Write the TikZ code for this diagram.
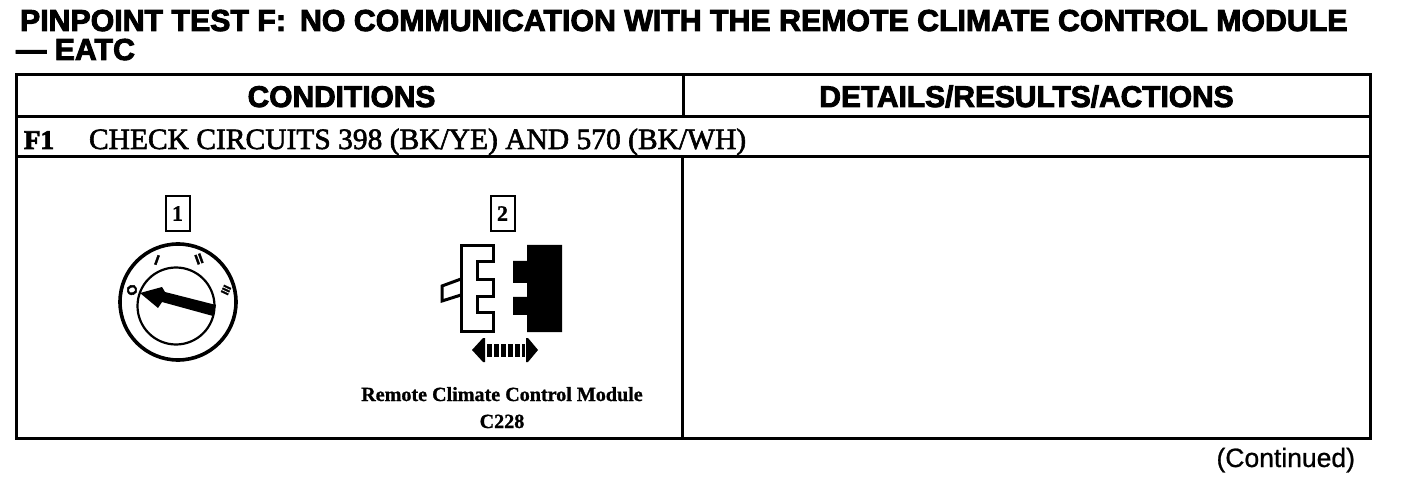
\documentclass[tikz,border=0pt]{standalone}
\usepackage{fontspec}
\setmainfont{Liberation Serif}
\setsansfont{Liberation Sans}
\newfontfamily\heavysans[FakeBold=3]{Liberation Sans Bold}
\newfontfamily\heavyserif[FakeBold=2]{Liberation Serif}
\newfontfamily\heavyserifb[FakeBold=3]{Liberation Serif Bold}
\newfontfamily\medsans[FakeBold=0.8]{Liberation Sans}
\newfontfamily\capserif[FakeBold=1]{Liberation Serif Bold}
\tikzset{
  rule/.style={line width=3pt,line cap=rect},
  txt/.style={inner sep=0pt,outer sep=0pt,text=black},
  titletxt/.style={txt,anchor=base west,font=\heavysans\fontsize{30.3}{32}\selectfont},
  headtxt/.style={txt,anchor=base,font=\heavysans\fontsize{29.9}{32}\selectfont},
  rowtxt/.style={txt,anchor=base west,font=\heavyserif\fontsize{29.5}{32}\selectfont},
  captxt/.style={txt,anchor=base,font=\capserif\fontsize{20.1}{22}\selectfont},
  callout/.style={draw,line width=2pt,minimum width=24pt,minimum height=35pt,inner sep=0pt,font=\capserif\fontsize{22}{24}\selectfont},
  keymark/.style={txt,font=\heavysans\fontsize{14}{14}\selectfont},
}
\begin{document}
\begin{tikzpicture}[x=1pt,y=-1pt]
\useasboundingbox[fill=white] (0,0) rectangle (1408,494);
% title
\node[titletxt] (title1) at (20,31) {PINPOINT TEST F:\hspace{14pt}NO COMMUNICATION WITH THE REMOTE CLIMATE CONTROL MODULE};
\node[titletxt] (title2) at (16,60) {— EATC};
% table
\draw[rule] (16,75) rectangle (1370.5,438);
\draw[rule] (16,117) -- (1370.5,117);
\draw[rule] (16,157) -- (1370.5,157);
\draw[rule] (683,75) -- (683,117);
\draw[rule] (682,157) -- (682,438);
\node[headtxt] (h1) at (341.5,107) {CONDITIONS};
\node[headtxt] (h2) at (1026.5,107) {DETAILS/RESULTS/ACTIONS};
\node[rowtxt,font=\heavyserifb\fontsize{27}{30}\selectfont] (f1) at (24,149) {F1};
\node[rowtxt] (check) at (89,149) {CHECK CIRCUITS 398 (BK/YE) AND 570 (BK/WH)};
% callouts
\node[callout] (c1) at (177.5,213.5) {1};
\node[callout] (c2) at (502.5,213.5) {2};
% key switch
\draw[line width=3.6pt] (178,302) circle (58);
\draw[line width=2.2pt] (176,306) circle (38.5);
\fill (140,293) -- (162,287) -- (165,292) -- (216,305) -- (213,316) -- (162,302) -- (158,308) -- cycle;
\node[keymark,rotate=-70] (m0) at (132,290) {O};
\node[keymark,rotate=-20] (m1) at (157,260) {I};
\node[keymark,rotate=20] (m2) at (199,259) {II};
\node[keymark,rotate=65,font=\heavysans\fontsize{11}{11}\selectfont] (m3) at (226,290) {III};
% connector
\draw[line width=3pt,miter limit=2] (461,246) -- (493,246) -- (493,262) -- (477,262) -- (477,280) -- (493,280) -- (493,297) -- (477,297) -- (477,313) -- (493,313) -- (493,331) -- (461,331) -- cycle;
\draw[line width=3pt] (461,279) -- (442,286) -- (442,301) -- (461,295);
\fill (527,245) -- (562,245) -- (562,332) -- (527,332) -- (527,315) -- (513,315) -- (513,297) -- (527,297) -- (527,283) -- (513,283) -- (513,261) -- (527,261) -- cycle;
% double arrow
\fill (472,350) -- (483,338) -- (485,338) -- (485,362) -- (483,362) -- cycle;
\fill (538,350) -- (528,338) -- (526,338) -- (526,362) -- (528,362) -- cycle;
\draw[line width=13pt,dash pattern=on 5pt off 2pt] (487,350) -- (525,350);
% caption
\node[captxt] (cap1) at (502,401) {Remote Climate Control Module};
\node[captxt] (cap2) at (502,428) {C228};
\node[txt,anchor=base east,font=\medsans\fontsize{26.5}{28}\selectfont] (cont) at (1355,467) {(Continued)};
\end{tikzpicture}
\end{document}
